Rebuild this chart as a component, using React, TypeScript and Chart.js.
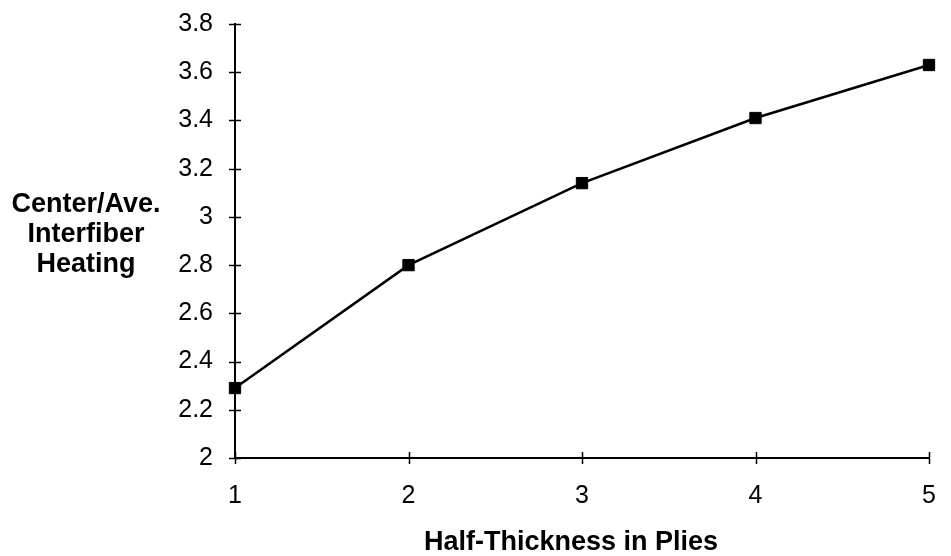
import React, { useEffect, useRef } from "react";
import { Chart, registerables } from "chart.js";

Chart.register(...registerables);

const pliesX = [1, 2, 3, 4, 5];
const heatingRatio = [2.29, 2.8, 3.14, 3.41, 3.63];
const yAxisTitleLines = ["Center/Ave.", "Interfiber", "Heating"];
const xAxisTitle = "Half-Thickness in Plies";

const FONT = '"Liberation Sans", Arial, Helvetica, sans-serif';

const crossTicksPlugin = {
  id: "crossTicks",
  afterDraw(chart: any) {
    const ctx = chart.ctx;
    const xs = chart.scales.x;
    const ys = chart.scales.y;
    ctx.save();
    ctx.strokeStyle = "#000";
    ctx.lineWidth = 1.5;
    ctx.beginPath();
    const ax = chart.chartArea.left;
    const ay = chart.chartArea.bottom;
    ys.ticks.forEach((t: any) => {
      const py = Math.round(ys.getPixelForValue(t.value)) + 0.5;
      ctx.moveTo(ax - 6, py);
      ctx.lineTo(ax + 6, py);
    });
    xs.ticks.forEach((t: any) => {
      const px = Math.round(xs.getPixelForValue(t.value)) + 0.5;
      ctx.moveTo(px, ay - 6);
      ctx.lineTo(px, ay + 6);
    });
    ctx.stroke();

    ctx.fillStyle = "#000";
    ctx.font = "bold 27px " + FONT;
    ctx.textAlign = "center";
    ctx.textBaseline = "alphabetic";
    yAxisTitleLines.forEach((line, i) => {
      ctx.fillText(line, 86, 212 + i * 30);
    });
    const cx = (chart.chartArea.left + chart.chartArea.right) / 2 - 11;
    ctx.fillText(xAxisTitle, cx, 550);
    ctx.restore();
  },
};

export default function App() {
  const canvasRef = useRef<HTMLCanvasElement | null>(null);

  useEffect(() => {
    if (!canvasRef.current) return;
    const chart = new Chart(canvasRef.current, {
      type: "line",
      data: {
        datasets: [
          {
            label: "Center/Ave. Interfiber Heating",
            data: pliesX.map((x, i) => ({ x, y: heatingRatio[i] })),
            borderColor: "#000",
            backgroundColor: "#000",
            borderWidth: 2.5,
            pointStyle: "rect",
            pointRadius: 8,
            pointBorderWidth: 1,
            pointBackgroundColor: "#000",
            pointBorderColor: "#000",
            tension: 0,
            clip: false as any,
          },
        ],
      },
      options: {
        animation: false,
        responsive: true,
        maintainAspectRatio: false,
        layout: { padding: { left: 0, right: 22, top: 24, bottom: 0 } },
        plugins: {
          legend: { display: false },
          tooltip: { enabled: false },
          title: { display: false },
        },
        scales: {
          x: {
            type: "linear",
            min: 1,
            max: 5,
            ticks: {
              stepSize: 1,
              color: "#000",
              font: { family: FONT, size: 25 },
              padding: 23,
              maxRotation: 0,
            },
            grid: { display: true, drawOnChartArea: false, drawTicks: false },
            border: { display: true, color: "#000", width: 2 },
            afterFit: (scale: any) => {
              scale.height = 98;
              scale.paddingLeft = 0;
              scale.paddingRight = 0;
            },
          },
          y: {
            type: "linear",
            min: 2,
            max: 3.8,
            ticks: {
              stepSize: 0.2,
              color: "#000",
              font: { family: FONT, size: 25 },
              padding: 22,
              callback: (v: any) => String(Number(Number(v).toFixed(1))),
            },
            grid: { display: true, drawOnChartArea: false, drawTicks: false },
            border: { display: true, color: "#000", width: 2 },
            afterFit: (scale: any) => {
              scale.width = 235;
              scale.paddingTop = 0;
              scale.paddingBottom = 0;
            },
          },
        },
      },
      plugins: [crossTicksPlugin],
    });
    return () => chart.destroy();
  }, []);

  return (
    <div style={{ position: "absolute", left: 0, top: 0, width: 951, height: 556, background: "#fff" }}>
      <canvas ref={canvasRef} />
    </div>
  );
}
